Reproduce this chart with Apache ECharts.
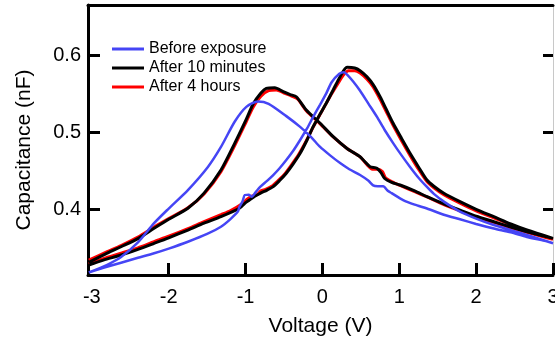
<!DOCTYPE html>
<html>
<head>
<meta charset="utf-8">
<script src="https://cdn.jsdelivr.net/npm/echarts@6/dist/echarts.min.js"></script>
<style>html,body{margin:0;padding:0;background:#fff;}#c{width:555px;height:347px;}</style>
</head>
<body>
<div id="c"></div>
<script>
// Voltage (V) and capacitance (nF) for each hysteresis loop (forward then reverse sweep)
const beforeV = [-3.04,-2.8,-2.62,-2.4,-2.19,-2.0,-1.75,-1.49,-1.32,-1.14,-0.99,-0.84,-0.7,-0.47,-0.29,-0.15,-0.03,0.1,0.23,0.35,0.49,0.6,0.66,0.72,0.79,0.85,0.9,1.05,1.2,1.36,1.58,1.79,2.0,2.23,2.45,2.66,2.85,3.0,
  2.66,2.45,2.23,2.0,1.79,1.58,1.45,1.36,1.25,1.14,1.03,0.92,0.81,0.71,0.6,0.49,0.4,0.33,0.28,0.22,0.12,0.05,-0.03,-0.12,-0.2,-0.29,-0.38,-0.47,-0.56,-0.64,-0.72,-0.81,-0.87,-0.92,-0.96,-1.01,-1.04,-1.08,-1.1,-1.2,-1.32,-1.5,-1.75,-2.0,-2.19,-2.4,-2.62,-2.85,-3.04];
const beforeC = [0.318,0.328,0.338,0.357,0.382,0.401,0.425,0.455,0.481,0.514,0.533,0.540,0.537,0.521,0.507,0.494,0.481,0.470,0.460,0.452,0.4445,0.437,0.431,0.430,0.430,0.424,0.421,0.412,0.406,0.401,0.393,0.387,0.381,0.375,0.370,0.364,0.360,0.356,
  0.3666,0.373,0.3796,0.388,0.397,0.410,0.420,0.429,0.441,0.455,0.470,0.486,0.503,0.520,0.537,0.554,0.566,0.574,0.578,0.576,0.565,0.5506,0.536,0.520,0.505,0.490,0.476,0.464,0.453,0.4445,0.437,0.429,0.422,0.4164,0.419,0.4186,0.410,0.403,0.397,0.387,0.3774,0.368,0.3579,0.349,0.3429,0.337,0.3307,0.324,0.318];

const tenMinV = [-3.04,-2.8,-2.62,-2.4,-2.19,-2.0,-1.75,-1.54,-1.32,-1.14,-0.99,-0.9,-0.8,-0.73,-0.62,-0.51,-0.42,-0.34,-0.21,-0.03,0.14,0.32,0.49,0.55,0.62,0.71,0.76,0.81,0.9,1.01,1.2,1.36,1.58,1.79,2.0,2.23,2.45,2.66,2.85,3.0,
  2.66,2.45,2.23,2.0,1.79,1.58,1.45,1.36,1.25,1.14,1.03,0.92,0.83,0.75,0.66,0.58,0.49,0.42,0.32,0.23,0.14,0.05,-0.04,-0.12,-0.2,-0.29,-0.38,-0.47,-0.56,-0.64,-0.72,-0.81,-0.88,-0.95,-1.01,-1.08,-1.32,-1.54,-1.75,-2.0,-2.19,-2.4,-2.62,-2.85,-3.04];
const tenMinC = [0.331,0.343,0.3514,0.362,0.3753,0.387,0.4013,0.421,0.451,0.486,0.517,0.537,0.551,0.557,0.558,0.5528,0.549,0.5462,0.529,0.5117,0.4943,0.479,0.4683,0.462,0.4553,0.4532,0.448,0.440,0.435,0.4316,0.424,0.4164,0.407,0.399,0.391,0.3839,0.377,0.3709,0.366,0.3623,
  0.3731,0.381,0.3904,0.400,0.4099,0.4208,0.430,0.438,0.455,0.4727,0.492,0.5117,0.530,0.5463,0.562,0.572,0.580,0.5835,0.5844,0.5722,0.555,0.5377,0.522,0.5073,0.490,0.4727,0.459,0.4468,0.437,0.4294,0.425,0.4208,0.417,0.412,0.4078,0.4013,0.3904,0.382,0.3731,0.363,0.3558,0.348,0.3406,0.334,0.3276];

const fourHrV = [-3.04,-2.8,-2.62,-2.4,-2.19,-2.0,-1.75,-1.54,-1.32,-1.14,-0.99,-0.9,-0.8,-0.7,-0.6,-0.5,-0.4,-0.32,-0.21,-0.03,0.14,0.32,0.49,0.58,0.65,0.72,0.78,0.82,0.9,1.01,1.2,1.36,1.58,1.79,2.0,2.23,2.45,2.66,2.85,3.0,
  2.66,2.45,2.23,2.0,1.79,1.58,1.45,1.36,1.25,1.14,1.03,0.92,0.83,0.75,0.66,0.58,0.49,0.42,0.34,0.27,0.2,0.12,0.03,-0.06,-0.14,-0.22,-0.31,-0.4,-0.49,-0.58,-0.66,-0.74,-0.8,-0.85,-0.92,-0.98,-1.05,-1.2,-1.32,-1.54,-1.75,-2.0,-2.19,-2.4,-2.62,-2.85,-3.04];
const fourHrC = [0.334,0.345,0.353,0.364,0.377,0.388,0.402,0.420,0.449,0.483,0.514,0.533,0.547,0.554,0.555,0.551,0.547,0.543,0.528,0.511,0.494,0.479,0.468,0.458,0.452,0.452,0.449,0.441,0.436,0.431,0.423,0.416,0.406,0.398,0.390,0.383,0.376,0.370,0.365,0.361,
  0.372,0.380,0.389,0.398,0.408,0.419,0.428,0.436,0.452,0.470,0.489,0.509,0.527,0.543,0.559,0.569,0.577,0.580,0.580,0.574,0.563,0.550,0.534,0.518,0.503,0.487,0.471,0.458,0.446,0.437,0.430,0.426,0.424,0.419,0.417,0.413,0.407,0.398,0.393,0.384,0.375,0.365,0.358,0.350,0.343,0.336,0.329];

const seriesNames = ['Before exposure','After 10 minutes','After 4 hours'];
const xTicks = [-3,-2,-1,0,1,2,3];
const yTicks = [0.4,0.5,0.6];

const zip = (a,b) => a.map((v,i)=>[v,b[i]]);
const FONT = '"Liberation Sans", Arial, sans-serif';

const chart = echarts.init(document.getElementById('c'), null, {renderer:'canvas'});
chart.setOption({
  animation:false,
  backgroundColor:'#fff',
  grid:{left:88,right:2,top:5,bottom:72,containLabel:false,outerBoundsMode:'none'},
  legend:{
    orient:'vertical', left:112, top:40, padding:0, itemGap:1,
    itemWidth:32, itemHeight:3, icon:'rect',
    data:seriesNames,
    textStyle:{fontFamily:FONT,fontSize:16,color:'#000',lineHeight:18}
  },
  graphic:[{
    type:'text', x:24, y:150, rotation:Math.PI/2,
    style:{text:'Capacitance (nF)', fontFamily:FONT, fontSize:21, fill:'#000', align:'center', verticalAlign:'middle'}
  }],
  xAxis:[{
    type:'value', min:-3.05, max:3.0, position:'bottom',
    name:'Voltage (V)', nameLocation:'middle', nameGap:41,
    nameTextStyle:{fontFamily:FONT,fontSize:21,color:'#000'},
    axisLine:{show:true,onZero:false,lineStyle:{color:'#000',width:3}},
    axisTick:{show:true,inside:true,length:12,lineStyle:{color:'#000',width:3},customValues:xTicks.slice(1)},
    axisLabel:{show:true,margin:12,fontFamily:FONT,fontSize:20,color:'#000',customValues:xTicks,formatter:v=>String(Math.round(v))},
    splitLine:{show:false}
  },{
    type:'value', min:-3.05, max:3.0, position:'top',
    axisLine:{show:true,onZero:false,lineStyle:{color:'#000',width:3}},
    axisTick:{show:false}, axisLabel:{show:false}, splitLine:{show:false}
  }],
  yAxis:[{
    type:'value', min:0.3147, max:0.6653, position:'left',
    axisLine:{show:true,onZero:false,lineStyle:{color:'#000',width:3}},
    axisTick:{show:true,inside:true,length:12,lineStyle:{color:'#000',width:3},customValues:yTicks},
    axisLabel:{show:true,margin:7,fontFamily:FONT,fontSize:20,color:'#000',customValues:yTicks,formatter:v=>v.toFixed(1)},
    splitLine:{show:false}
  },{
    type:'value', min:0.3147, max:0.6653, position:'right',
    axisLine:{show:true,onZero:false,lineStyle:{color:'#c8c8c8',width:1}},
    axisTick:{show:true,inside:true,length:10,lineStyle:{color:'#000',width:3},customValues:yTicks},
    axisLabel:{show:false}, splitLine:{show:false}
  }],
  series:[
    {name:'After 4 hours',type:'line',data:zip(fourHrV,fourHrC),showSymbol:false,smooth:0.25,color:'#ff0000',lineStyle:{width:3,color:'#ff0000'},z:2},
    {name:'After 10 minutes',type:'line',data:zip(tenMinV,tenMinC),showSymbol:false,smooth:0.25,color:'#000000',lineStyle:{width:3,color:'#000000'},z:3},
    {name:'Before exposure',type:'line',data:zip(beforeV,beforeC),showSymbol:false,smooth:0.25,color:'#4545f5',lineStyle:{width:2.5,color:'#4545f5'},z:4}
  ]
});
</script>
</body>
</html>
